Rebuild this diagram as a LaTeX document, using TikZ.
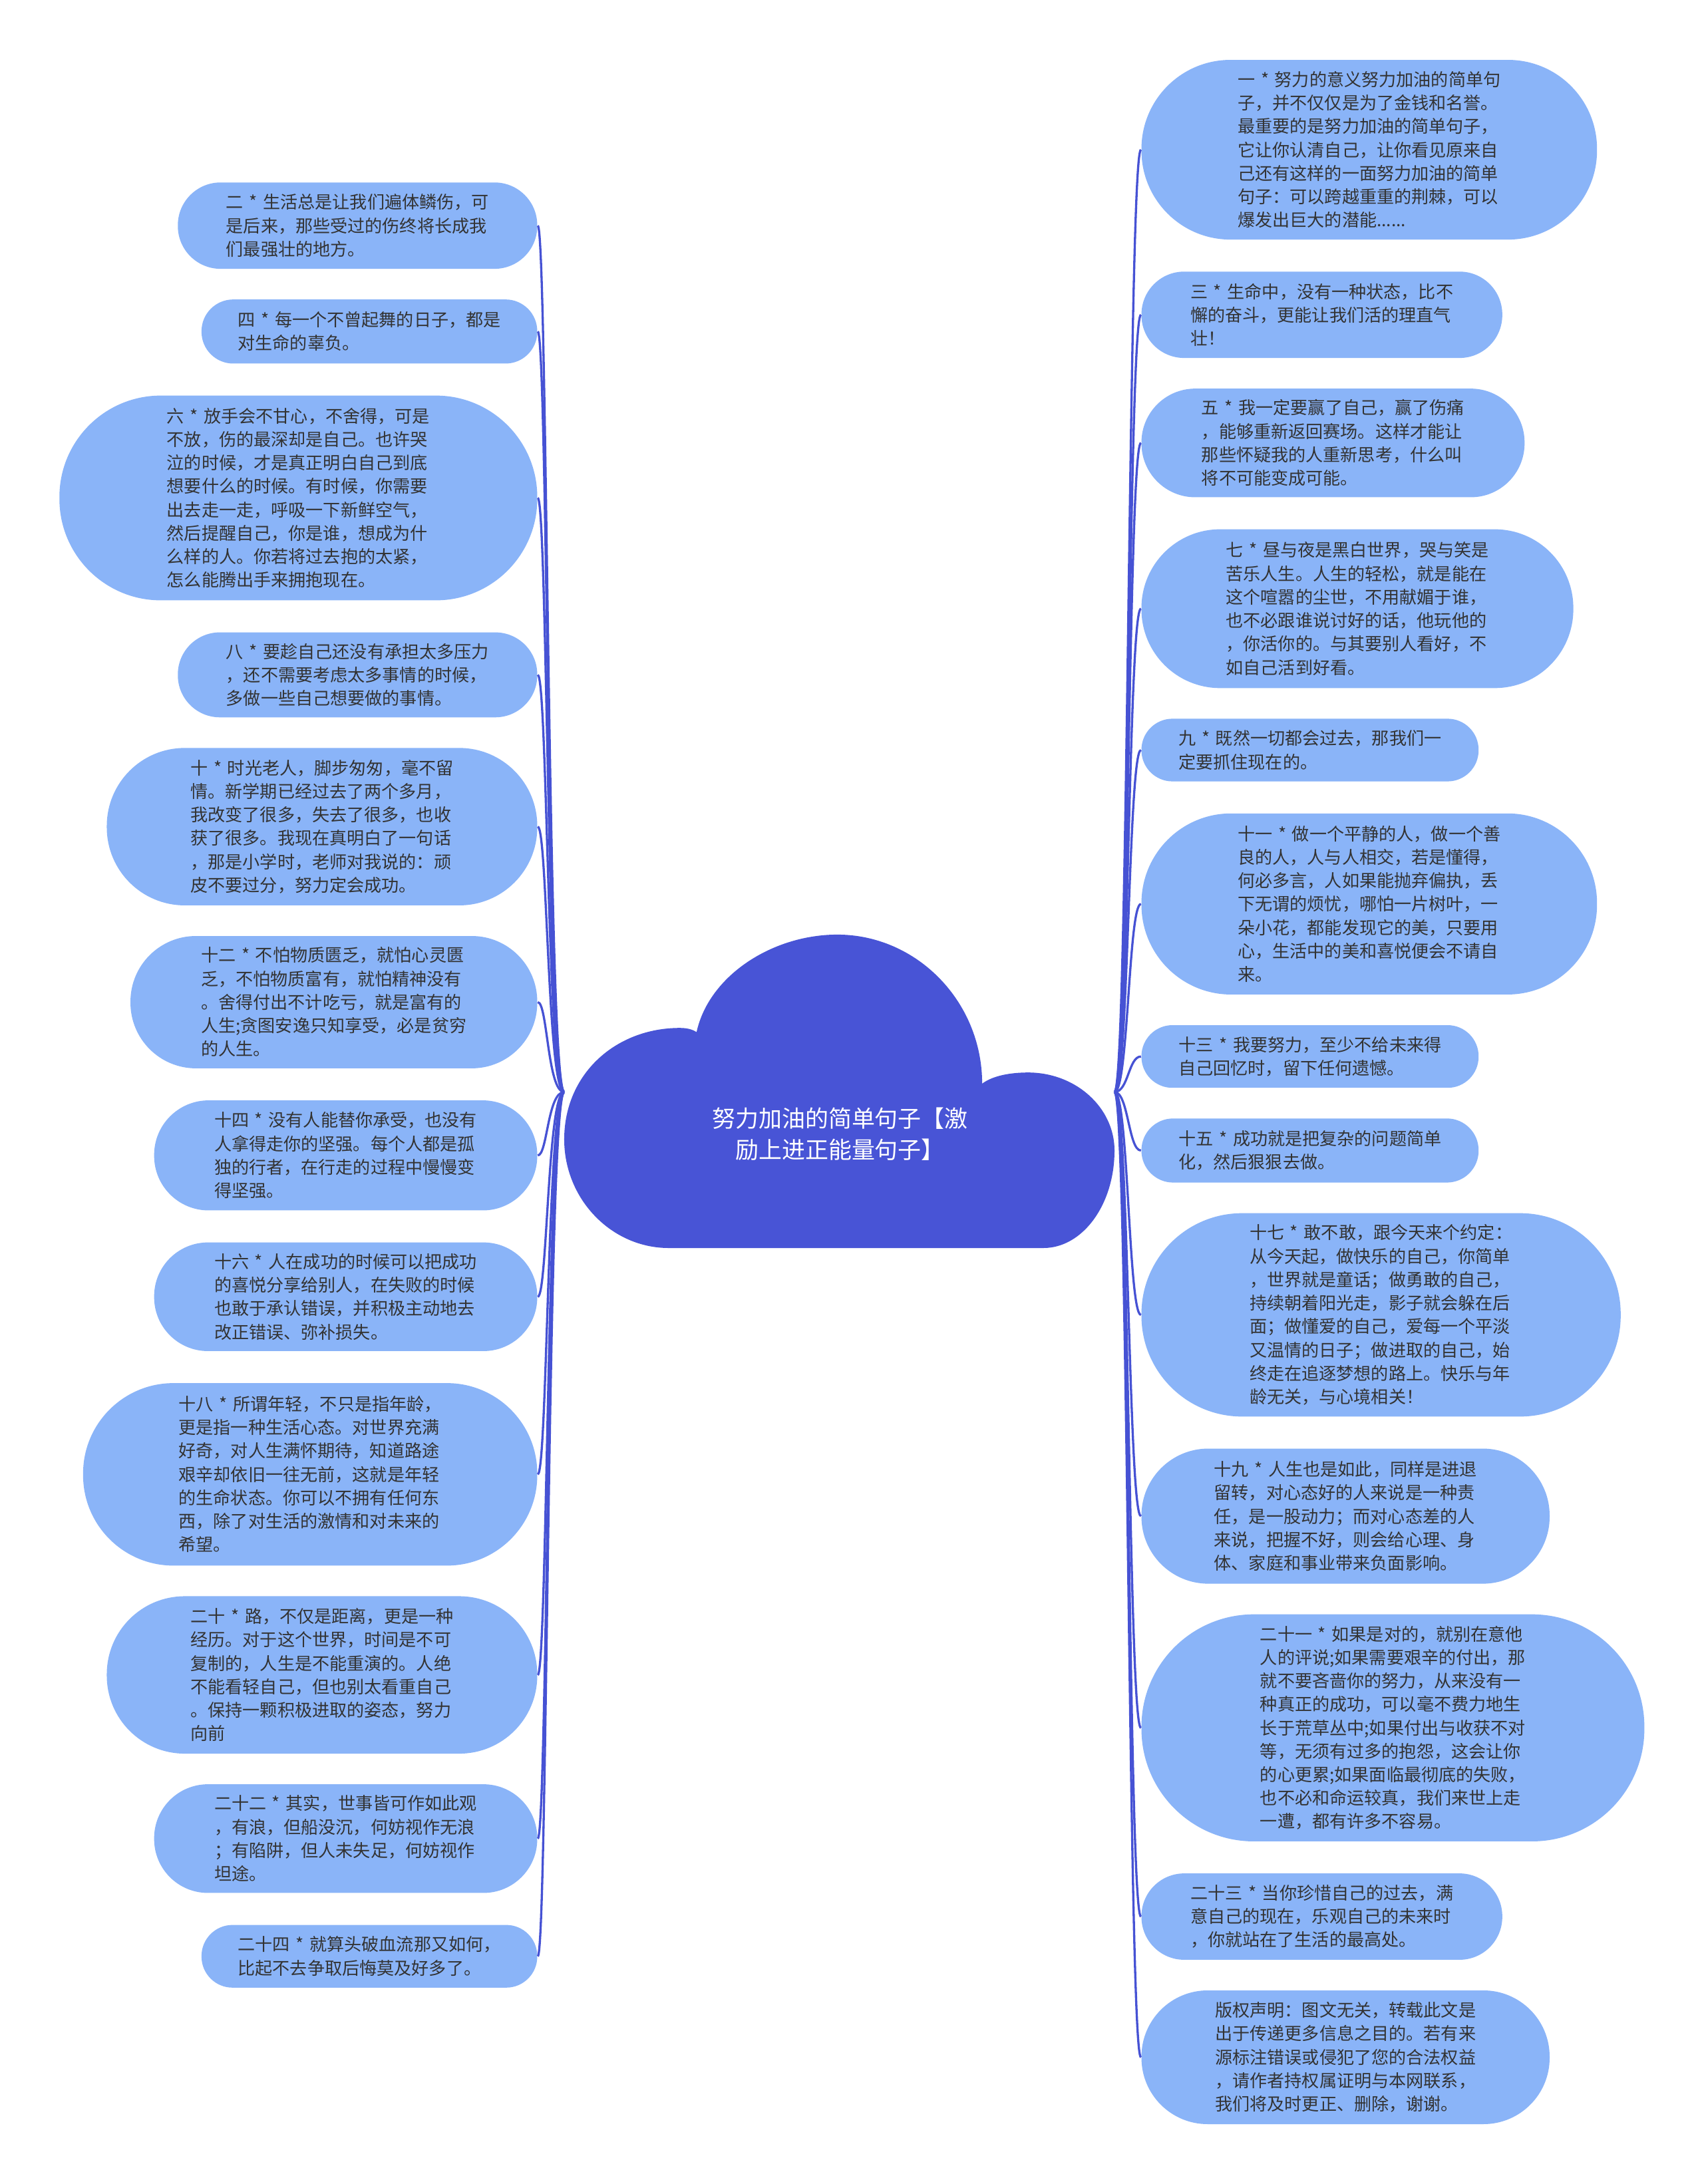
\documentclass[tikz,border=0pt]{standalone}
\usepackage{fontspec}
\setmainfont{Noto Sans CJK SC}
\usepackage{tikz}
\definecolor{leafblue}{RGB}{138,180,248}
\definecolor{cloudblue}{RGB}{72,84,214}
\definecolor{linkblue}{RGB}{70,82,212}
\definecolor{inkgrey}{RGB}{51,51,51}
\newcommand{\sx}{\hspace{0.33em}*\hspace{0.33em}}

\begin{document}
\begin{tikzpicture}[
  x=0.02cm, y=-0.02cm,
  leaf/.style 2 args={fill=leafblue, text=inkgrey, align=left, inner sep=0pt,
    minimum width=#1*0.02cm, minimum height=#2*0.02cm,
    rounded corners=#2*0.0099cm, font=\fontsize{7.1pt}{9.58pt}\selectfont},
  link/.style={draw=linkblue, line width=0.9pt},
  title/.style={text=white, align=center, font=\fontsize{9.5pt}{12.8pt}\selectfont},
]
\path[fill=white, use as bounding box] (0,0) rectangle (1223,1568);

% ---- central cloud ----
\fill[cloudblue] (480,896) .. controls (439,896) and (405,861) .. (405,818)
  .. controls (405,771) and (442,738) .. (488,738)
  .. controls (493,738) and (497,739) .. (500,741)
  .. controls (509,700) and (555,671) .. (601,671)
  .. controls (658,671) and (705,719) .. (705,778)
  .. controls (713,772) and (726,770) .. (738,770)
  .. controls (772,770) and (800,795) .. (800,826)
  .. controls (800,865) and (777,896) .. (749,896) -- cycle;
\node[title] (title) at (603,814) {努力加油的简单句子【激\\励上进正能量句子】};
\coordinate (lroot) at (405,784);
\coordinate (rroot) at (800,784);

% ---- left branch ----
\node[leaf={258}{62}, anchor=east] (q2) at (386,162)
  {二\sx 生活总是让我们遍体鳞伤，可\\是后来，那些受过的伤终将长成我\\们最强壮的地方。};
\node[leaf={241}{46}, anchor=east] (q4) at (386,238)
  {四\sx 每一个不曾起舞的日子，都是\\对生命的辜负。};
\node[leaf={343}{147}, anchor=east] (q6) at (386,357.5)
  {六\sx 放手会不甘心，不舍得，可是\\不放，伤的最深却是自己。也许哭\\泣的时候，才是真正明白自己到底\\想要什么的时候。有时候，你需要\\出去走一走，呼吸一下新鲜空气，\\然后提醒自己，你是谁，想成为什\\么样的人。你若将过去抱的太紧，\\怎么能腾出手来拥抱现在。};
\node[leaf={258}{61}, anchor=east] (q8) at (386,484.5)
  {八\sx 要趁自己还没有承担太多压力\\，还不需要考虑太多事情的时候，\\多做一些自己想要做的事情。};
\node[leaf={309}{113}, anchor=east] (q10) at (386,593.5)
  {十\sx 时光老人，脚步匆匆，毫不留\\情。新学期已经过去了两个多月，\\我改变了很多，失去了很多，也收\\获了很多。我现在真明白了一句话\\，那是小学时，老师对我说的：顽\\皮不要过分，努力定会成功。};
\node[leaf={292}{95}, anchor=east] (q12) at (386,719.5)
  {十二\sx 不怕物质匮乏，就怕心灵匮\\乏，不怕物质富有，就怕精神没有\\。舍得付出不计吃亏，就是富有的\\人生;贪图安逸只知享受，必是贫穷\\的人生。};
\node[leaf={275}{79}, anchor=east] (q14) at (386,829.5)
  {十四\sx 没有人能替你承受，也没有\\人拿得走你的坚强。每个人都是孤\\独的行者，在行走的过程中慢慢变\\得坚强。};
\node[leaf={275}{78}, anchor=east] (q16) at (386,931)
  {十六\sx 人在成功的时候可以把成功\\的喜悦分享给别人，在失败的时候\\也敢于承认错误，并积极主动地去\\改正错误、弥补损失。};
\node[leaf={326}{131}, anchor=east] (q18) at (386,1058.5)
  {十八\sx 所谓年轻，不只是指年龄，\\更是指一种生活心态。对世界充满\\好奇，对人生满怀期待，知道路途\\艰辛却依旧一往无前，这就是年轻\\的生命状态。你可以不拥有任何东\\西，除了对生活的激情和对未来的\\希望。};
\node[leaf={309}{113}, anchor=east] (q20) at (386,1202.5)
  {二十\sx 路，不仅是距离，更是一种\\经历。对于这个世界，时间是不可\\复制的，人生是不能重演的。人绝\\不能看轻自己，但也别太看重自己\\。保持一颗积极进取的姿态，努力\\向前};
\node[leaf={275}{78}, anchor=east] (q22) at (386,1320)
  {二十二\sx 其实，世事皆可作如此观\\，有浪，但船没沉，何妨视作无浪\\；有陷阱，但人未失足，何妨视作\\坦途。};
\node[leaf={241}{45}, anchor=east] (q24) at (386,1404.5)
  {二十四\sx 就算头破血流那又如何，\\比起不去争取后悔莫及好多了。};

% ---- right branch ----
\node[leaf={327}{129}, anchor=west] (q1) at (819,107.5)
  {一\sx 努力的意义努力加油的简单句\\子，并不仅仅是为了金钱和名誉。\\最重要的是努力加油的简单句子，\\它让你认清自己，让你看见原来自\\己还有这样的一面努力加油的简单\\句子：可以跨越重重的荆棘，可以\\爆发出巨大的潜能......};
\node[leaf={259}{62}, anchor=west] (q3) at (819,226)
  {三\sx 生命中，没有一种状态，比不\\懈的奋斗，更能让我们活的理直气\\壮！};
\node[leaf={275}{78}, anchor=west] (q5) at (819,318)
  {五\sx 我一定要赢了自己，赢了伤痛\\，能够重新返回赛场。这样才能让\\那些怀疑我的人重新思考，什么叫\\将不可能变成可能。};
\node[leaf={310}{114}, anchor=west] (q7) at (819,437)
  {七\sx 昼与夜是黑白世界，哭与笑是\\苦乐人生。人生的轻松，就是能在\\这个喧嚣的尘世，不用献媚于谁，\\也不必跟谁说讨好的话，他玩他的\\，你活你的。与其要别人看好，不\\如自己活到好看。};
\node[leaf={242}{45}, anchor=west] (q9) at (819,538.5)
  {九\sx 既然一切都会过去，那我们一\\定要抓住现在的。};
\node[leaf={327}{130}, anchor=west] (q11) at (819,649)
  {十一\sx 做一个平静的人，做一个善\\良的人，人与人相交，若是懂得，\\何必多言，人如果能抛弃偏执，丢\\下无谓的烦忧，哪怕一片树叶，一\\朵小花，都能发现它的美，只要用\\心，生活中的美和喜悦便会不请自\\来。};
\node[leaf={242}{45}, anchor=west] (q13) at (819,758.5)
  {十三\sx 我要努力，至少不给未来得\\自己回忆时，留下任何遗憾。};
\node[leaf={242}{46}, anchor=west] (q15) at (819,826)
  {十五\sx 成功就是把复杂的问题简单\\化，然后狠狠去做。};
\node[leaf={344}{146}, anchor=west] (q17) at (819,944)
  {十七\sx 敢不敢，跟今天来个约定：\\从今天起，做快乐的自己，你简单\\，世界就是童话；做勇敢的自己，\\持续朝着阳光走，影子就会躲在后\\面；做懂爱的自己，爱每一个平淡\\又温情的日子；做进取的自己，始\\终走在追逐梦想的路上。快乐与年\\龄无关，与心境相关！};
\node[leaf={293}{97}, anchor=west] (q19) at (819,1088.5)
  {十九\sx 人生也是如此，同样是进退\\留转，对心态好的人来说是一种责\\任，是一股动力；而对心态差的人\\来说，把握不好，则会给心理、身\\体、家庭和事业带来负面影响。};
\node[leaf={361}{163}, anchor=west] (q21) at (819,1240.5)
  {二十一\sx 如果是对的，就别在意他\\人的评说;如果需要艰辛的付出，那\\就不要吝啬你的努力，从来没有一\\种真正的成功，可以毫不费力地生\\长于荒草丛中;如果付出与收获不对\\等，无须有过多的抱怨，这会让你\\的心更累;如果面临最彻底的失败，\\也不必和命运较真，我们来世上走\\一遭，都有许多不容易。};
\node[leaf={259}{62}, anchor=west] (q23) at (819,1376)
  {二十三\sx 当你珍惜自己的过去，满\\意自己的现在，乐观自己的未来时\\，你就站在了生活的最高处。};
\node[leaf={293}{96}, anchor=west] (note) at (819,1477)
  {版权声明：图文无关，转载此文是\\出于传递更多信息之目的。若有来\\源标注错误或侵犯了您的合法权益\\，请作者持权属证明与本网联系，\\我们将及时更正、删除，谢谢。};

% ---- connectors, left ----
\draw[link] (lroot) .. controls +(-12,0) and +(7,0) .. (q2.east);
\draw[link] (lroot) .. controls +(-12,0) and +(7,0) .. (q4.east);
\draw[link] (lroot) .. controls +(-12,0) and +(7,0) .. (q6.east);
\draw[link] (lroot) .. controls +(-12,0) and +(7,0) .. (q8.east);
\draw[link] (lroot) .. controls +(-12,0) and +(7,0) .. (q10.east);
\draw[link] (lroot) .. controls +(-12,0) and +(7,0) .. (q12.east);
\draw[link] (lroot) .. controls +(-12,0) and +(7,0) .. (q14.east);
\draw[link] (lroot) .. controls +(-12,0) and +(7,0) .. (q16.east);
\draw[link] (lroot) .. controls +(-12,0) and +(7,0) .. (q18.east);
\draw[link] (lroot) .. controls +(-12,0) and +(7,0) .. (q20.east);
\draw[link] (lroot) .. controls +(-12,0) and +(7,0) .. (q22.east);
\draw[link] (lroot) .. controls +(-12,0) and +(7,0) .. (q24.east);

% ---- connectors, right ----
\draw[link] (rroot) .. controls +(10,0) and +(-9,0) .. (q1.west);
\draw[link] (rroot) .. controls +(10,0) and +(-9,0) .. (q3.west);
\draw[link] (rroot) .. controls +(10,0) and +(-9,0) .. (q5.west);
\draw[link] (rroot) .. controls +(10,0) and +(-9,0) .. (q7.west);
\draw[link] (rroot) .. controls +(10,0) and +(-9,0) .. (q9.west);
\draw[link] (rroot) .. controls +(10,0) and +(-9,0) .. (q11.west);
\draw[link] (rroot) .. controls +(10,0) and +(-9,0) .. (q13.west);
\draw[link] (rroot) .. controls +(10,0) and +(-9,0) .. (q15.west);
\draw[link] (rroot) .. controls +(10,0) and +(-9,0) .. (q17.west);
\draw[link] (rroot) .. controls +(10,0) and +(-9,0) .. (q19.west);
\draw[link] (rroot) .. controls +(10,0) and +(-9,0) .. (q21.west);
\draw[link] (rroot) .. controls +(10,0) and +(-9,0) .. (q23.west);
\draw[link] (rroot) .. controls +(10,0) and +(-9,0) .. (note.west);

\end{tikzpicture}
\end{document}
